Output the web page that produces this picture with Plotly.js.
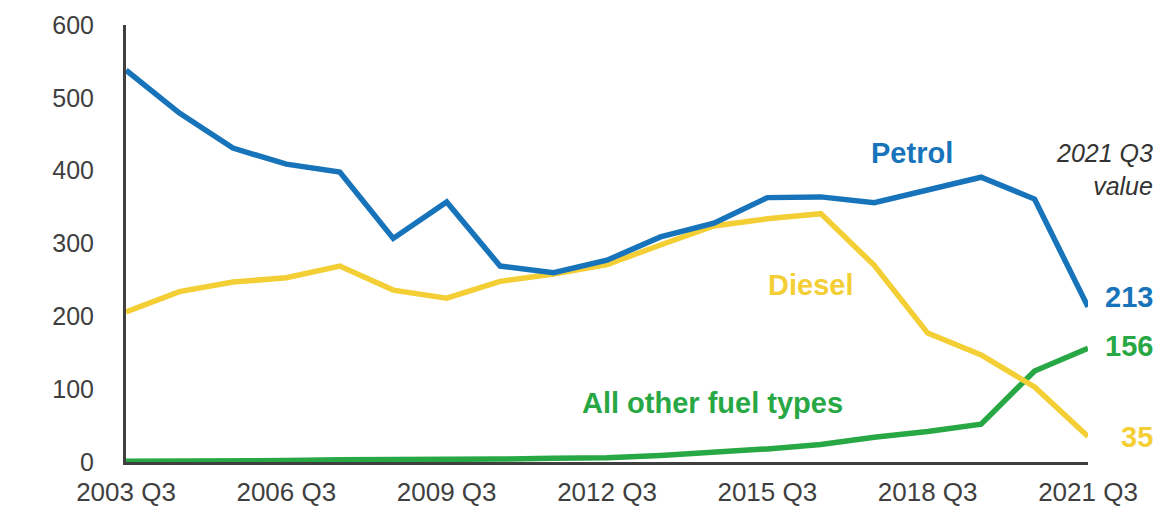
<!DOCTYPE html>
<html>
<head>
<meta charset="utf-8">
<script src="https://cdn.plot.ly/plotly-3.0.1.min.js"></script>
<style>
  html, body { margin: 0; padding: 0; background: #ffffff; }
  #chart { width: 1159px; height: 512px; }
</style>
</head>
<body>
<div id="chart"></div>
<script>
// Quarterly periods (one reading per year, Q3)
const periods = [
  "2003 Q3", "2004 Q3", "2005 Q3", "2006 Q3", "2007 Q3", "2008 Q3", "2009 Q3",
  "2010 Q3", "2011 Q3", "2012 Q3", "2013 Q3", "2014 Q3", "2015 Q3", "2016 Q3",
  "2017 Q3", "2018 Q3", "2019 Q3", "2020 Q3", "2021 Q3"
];
const tickPeriods = ["2003 Q3", "2006 Q3", "2009 Q3", "2012 Q3", "2015 Q3", "2018 Q3", "2021 Q3"];

const petrol = [538, 479, 431, 409, 398, 307, 357, 269, 260, 277, 309, 328, 363, 364, 356, 374, 391, 361, 213];
const diesel = [206, 234, 247, 253, 269, 236, 225, 248, 258, 271, 298, 324, 334, 341, 270, 177, 147, 103, 35];
const other  = [1, 1, 2, 2, 3, 3, 4, 4, 5, 6, 9, 13, 18, 24, 34, 42, 52, 125, 156];

const yTicks = [0, 100, 200, 300, 400, 500, 600];

const BLUE = "#1874ba";
const YELLOW = "#f3cf35";
const GREEN = "#27a844";
const AXIS = "#3f3f3f";
const FONT = "Liberation Sans, Arial, sans-serif";

const lastIdx = periods.length - 1;

function series(name, values, color) {
  return {
    type: "scatter",
    mode: "lines",
    name: name,
    x: periods,
    y: values,
    line: { color: color, width: 5.5 },
    hoverinfo: "x+y+name"
  };
}

const data = [
  series("All other fuel types", other, GREEN),
  series("Diesel", diesel, YELLOW),
  series("Petrol", petrol, BLUE)
];

// End-of-line values for the latest period
const endLabels = [
  { v: petrol[lastIdx], c: BLUE, shift: 10 },
  { v: other[lastIdx], c: GREEN, shift: 2 },
  { v: diesel[lastIdx], c: YELLOW, shift: 0 }
];

const annotations = [
  { x: 14.7, y: 424, text: "Petrol", font: { color: BLUE, size: 29, family: FONT, weight: "bold" } },
  { x: 12.8, y: 243, text: "Diesel", font: { color: YELLOW, size: 29, family: FONT, weight: "bold" } },
  { x: 10.97, y: 81, text: "All other fuel types", font: { color: GREEN, size: 29, family: FONT, weight: "bold" } },
  { xref: "paper", x: 1.0697, xanchor: "right", align: "right", y: 401,
    text: "2021 Q3<br>value", font: { color: "#333333", size: 25, family: FONT, style: "italic" } }
].concat(endLabels.map(e => ({
  xref: "paper", x: 1.0697, xanchor: "right", y: e.v, yshift: e.shift,
  text: String(e.v), font: { color: e.c, size: 29, family: FONT, weight: "bold" }
}))).map(a => Object.assign({ xref: "x", yref: "y", showarrow: false }, a));

const layout = {
  width: 1159,
  height: 512,
  margin: { l: 126, r: 71, t: 25, b: 50, pad: 0 },
  paper_bgcolor: "#ffffff",
  plot_bgcolor: "#ffffff",
  showlegend: false,
  font: { family: FONT, color: AXIS },
  xaxis: {
    type: "category",
    range: [0, lastIdx],
    tickmode: "array",
    tickvals: tickPeriods,
    ticktext: tickPeriods,
    showgrid: false,
    zeroline: false,
    showline: true,
    linecolor: AXIS,
    linewidth: 3,
    ticks: "outside",
    ticklen: 5,
    tickcolor: "rgba(0,0,0,0)",
    tickfont: { size: 26, color: AXIS, family: FONT },
    fixedrange: true
  },
  yaxis: {
    range: [0, 600],
    tickmode: "array",
    tickvals: yTicks,
    ticktext: yTicks.map(String),
    showgrid: false,
    zeroline: false,
    showline: true,
    linecolor: AXIS,
    linewidth: 3,
    ticks: "outside",
    ticklen: 24,
    tickcolor: "rgba(0,0,0,0)",
    tickfont: { size: 25, color: AXIS, family: FONT },
    fixedrange: true
  },
  annotations: annotations
};

Plotly.newPlot("chart", data, layout, { displayModeBar: false, staticPlot: true });
</script>
</body>
</html>
